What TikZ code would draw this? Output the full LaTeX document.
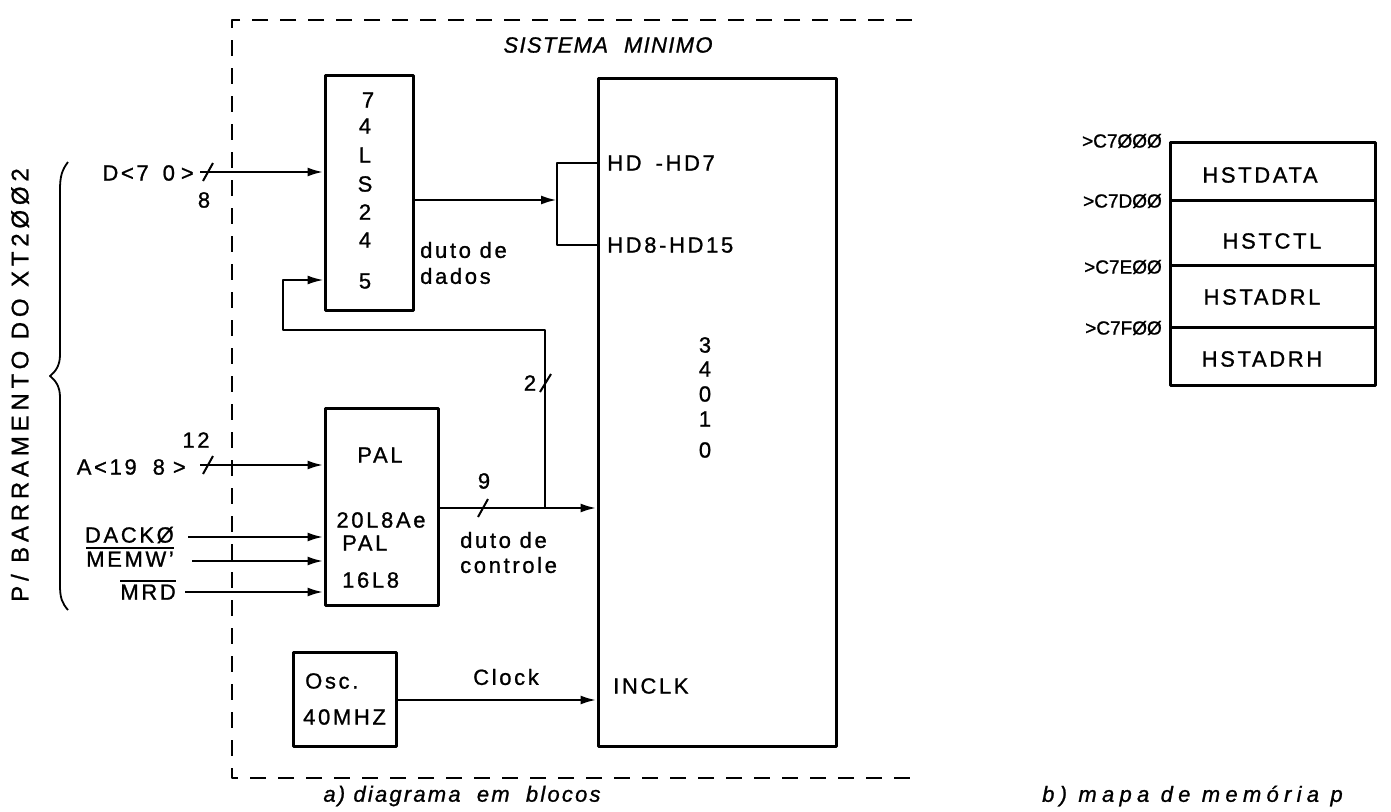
\documentclass[tikz,border=0pt]{standalone}
\usepackage{fontspec}
\setmainfont{Liberation Sans}[LetterSpace=12,FakeBold=1]
\usetikzlibrary{arrows.meta}
\newcommand{\ovl}[1]{{\setbox0\hbox{#1}\rlap{\raisebox{\dimexpr\ht0+2.5pt\relax}{\rule{\wd0}{1.8pt}}}\box0}}
\begin{document}
\begin{tikzpicture}[x=1pt,y=-1pt,line join=round,
  font=\fontsize{22}{24}\selectfont,
  blk/.style={draw,line width=3pt,inner sep=0pt},
  wire/.style={line width=2.6pt},
  thinwire/.style={line width=2pt},
  arr/.style={wire,-{Latex[length=16pt,width=9pt]}},
  lbl/.style={inner sep=0pt},
  frame/.style={line width=1.8pt,dash pattern=on 16pt off 12pt},
  itl/.style={lbl,font=\fontsize{22}{24}\selectfont\itshape\addfontfeature{LetterSpace=10}},
  addr/.style={lbl,anchor=east,font=\fontsize{19}{21}\selectfont\addfontfeature{LetterSpace=0}}]
\useasboundingbox (0,0) rectangle (1391,811);
\fill[white] (0,0) rectangle (1391,811);

% dashed frame
\coordinate (fTR) at (912,20);
\coordinate (fTL) at (232,20);
\coordinate (fBL) at (232,778);
\coordinate (fBR) at (910,778);
\draw[frame] (fTR) -- (fTL) -- (fBL) -- (fBR);
\node[lbl,font=\fontsize{22}{24}\selectfont\itshape\addfontfeature{LetterSpace=6}] (title) at (608,45) {SISTEMA\hspace{16pt}MINIMO};

% blocks
\node[blk,minimum width=88pt,minimum height=235pt] (b245) at (369,192.5) {};
\node[blk,minimum width=238pt,minimum height=668pt] (cpu) at (717,412) {};
\node[blk,minimum width=113pt,minimum height=197pt] (pal) at (381.5,506.5) {};
\node[blk,minimum width=103pt,minimum height=94pt] (osc) at (344.5,699) {};

% 74LS245 text
\node[lbl] (c1) at (368,100) {7};
\node[lbl] (c2) at (365,126) {4};
\node[lbl] (c3) at (365,155) {L};
\node[lbl] (c4) at (365,184) {S};
\node[lbl] (c5) at (365,212) {2};
\node[lbl] (c6) at (365,240) {4};
\node[lbl] (c7) at (365,281) {5};

% 34010 text
\node[lbl] (d1) at (705,345) {3};
\node[lbl] (d2) at (705,369) {4};
\node[lbl] (d3) at (705,394) {0};
\node[lbl] (d4) at (705,419) {1};
\node[lbl] (d5) at (705,450) {0};
\node[lbl,anchor=west] (hd0) at (607,163) {HD\hspace{14pt}-HD7};
\node[lbl,anchor=west] (hd8) at (607,245) {HD8-HD15};
\node[lbl,anchor=west] (inclk) at (613,686) {INCLK};

% PAL text
\node[lbl] (p1) at (380,455) {PAL};
\node[lbl] (p2) at (381,520) {20L8Ae};
\node[lbl,anchor=west] (p3) at (342,543) {PAL};
\node[lbl,anchor=west] (p4) at (342,580) {16L8};

% Osc text
\node[lbl,anchor=west] (o1) at (305,681) {Osc.};
\node[lbl,anchor=west] (o2) at (303,717) {40MHZ};

% bus labels
\node[lbl,anchor=west] (dd1) at (420,250) {duto de};
\node[lbl,anchor=west] (dd2) at (420,276) {dados};
\node[lbl,anchor=west] (dc1) at (460,540) {duto de};
\node[lbl,anchor=west] (dc2) at (460,565) {controle};
\node[lbl] (clk) at (506,677) {Clock};

% 74LS245 -> 34010 data bus
\coordinate (brT) at (557,163);
\coordinate (brB) at (557,245);
\coordinate (brM) at (557,200);
\draw[wire] (cpu.west |- brT) -- (brT) -- (brB) -- (cpu.west |- brB);
\draw[arr] (b245.east |- brM) -- (brM);

% external inputs
\coordinate (inD) at (200,172);
\coordinate (inA) at (200,465);
\coordinate (inDK) at (188,537);
\coordinate (inMW) at (192,561);
\coordinate (inMR) at (185,592);
\draw[arr] (inD) -- (b245.west |- inD);
\draw[arr] (inA) -- (pal.west |- inA);
\draw[arr] (inDK) -- (pal.west |- inDK);
\draw[arr] (inMW) -- (pal.west |- inMW);
\draw[arr] (inMR) -- (pal.west |- inMR);
\draw[thinwire] (203,181) -- (213,163);
\draw[thinwire] (203,474) -- (213,456);
\node[lbl] (n8) at (204,200) {8};
\node[lbl] (n12) at (196,440) {12};
\node[lbl,anchor=east] (sD) at (194,173) {D<7\kern14pt0\kern6pt>};
\node[lbl,anchor=east] (sA) at (186,467) {A<19\kern16pt8\kern8pt>};
\node[lbl,anchor=east] (sDK) at (174,535) {DACKØ};
\node[lbl,anchor=east] (sMW) at (174,557) {\ovl{MEMW'}};
\node[lbl,anchor=east] (sMR) at (176,590) {\ovl{MRD}};

% PAL -> 34010 control bus
\coordinate (palO) at (438,508);
\coordinate (j1) at (545,508);
\draw[arr] (pal.east |- palO) -- (cpu.west |- palO);
\draw[thinwire] (478,517) -- (488,499);
\node[lbl] (n9) at (484,481) {9};

% loop back to 74LS245
\coordinate (lA) at (545,330);
\coordinate (lB) at (283,330);
\coordinate (lC) at (283,280);
\draw[thinwire,-{Latex[length=16pt,width=9pt]}] (j1) -- (lA) -- (lB) -- (lC) -- (b245.west |- lC);
\draw[thinwire] (540,392) -- (551,374);
\node[lbl] (n2) at (530,383) {2};

% clock
\coordinate (clkY) at (0,700);
\draw[arr] (osc.east |- clkY) -- (cpu.west |- clkY);

% brace and bus label
\draw[line width=1.8pt] (68,162) .. controls (62,170) and (60,176) .. (60,190) -- (60,355)
  .. controls (60,366) and (55,372) .. (50,376) .. controls (55,380) and (60,386) .. (60,397)
  -- (60,585) .. controls (60,598) and (62,603) .. (68,610);
\node[lbl,rotate=90,font=\fontsize{24}{26}\selectfont\addfontfeature{LetterSpace=20}] (bus) at (20,385) {P/ BARRAMENTO DO XT2ØØ2};

% memory map
\node[blk,minimum width=205pt,minimum height=58pt] (m1) at (1272.5,171) {};
\node[blk,minimum width=205pt,minimum height=65pt] (m2) at (1272.5,232.5) {};
\node[blk,minimum width=205pt,minimum height=62pt] (m3) at (1272.5,296) {};
\node[blk,minimum width=205pt,minimum height=58pt] (m4) at (1272.5,356) {};
\node[lbl] (r1) at (1260,175) {HSTDATA};
\node[lbl] (r2) at (1272,241) {HSTCTL};
\node[lbl] (r3) at (1262,297) {HSTADRL};
\node[lbl] (r4) at (1262,359) {HSTADRH};
\node[addr] (a1) at (1162,141) {>C7ØØØ};
\node[addr] (a2) at (1162,201) {>C7DØØ};
\node[addr] (a3) at (1162,267) {>C7EØØ};
\node[addr] (a4) at (1162,328) {>C7FØØ};

% captions
\node[itl] (capA) at (462,796) {a) diagrama\hspace{8pt} em\hspace{8pt} blocos};
\node[itl,anchor=west,font=\fontsize{22}{24}\selectfont\itshape\addfontfeature{LetterSpace=24}] (capB) at (1042,796) {b) mapa de memória p};
\end{tikzpicture}
\end{document}
